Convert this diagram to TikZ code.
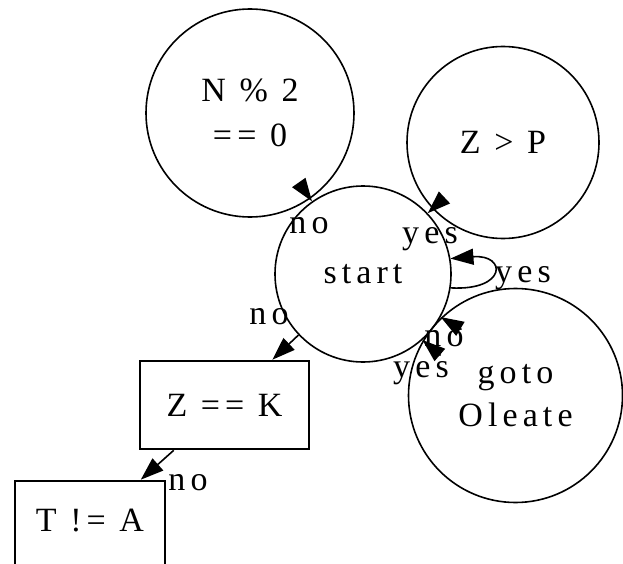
\documentclass[tikz,border=0pt]{standalone}
\usepackage{fontspec}
\setmainfont{Liberation Serif}[LetterSpace=15]
\usetikzlibrary{arrows.meta}
\begin{document}
\begin{tikzpicture}[x=1pt,y=-1pt,
  every node/.style={font=\fontsize{34}{45}\selectfont},
  circ/.style={draw, circle, line width=1.6pt, inner sep=0pt, align=center},
  boxn/.style={draw, rectangle, line width=2.6pt, inner sep=0pt},
  edge/.style={line width=1.6pt, -{Triangle[length=23pt,width=16pt]}},
  lab/.style={anchor=base, inner sep=0pt}]
\useasboundingbox (0,0) rectangle (623,564);
% nodes
\node[circ, minimum size=208pt] (n2) at (250,113) {N \% 2\\== 0};
\node[circ, minimum size=192pt] (zp) at (503,142.5) {Z > P};
\node[circ, minimum size=176pt] (start) at (363,274) {start};
\node[circ, minimum size=214pt, font=\fontsize{34}{43}\selectfont] (goto) at (515.5,395.5) {goto\\Oleate};
\node[boxn, minimum width=169pt, minimum height=88pt] (zk) at (224.5,405) {Z == K};
\node[boxn, minimum width=150pt, minimum height=88pt, text depth=9pt] (ta) at (90,525) {T != A};
% connectors
\draw[edge] (n2) -- (start);
\draw[edge] (zp) -- (start);
\draw[edge] (start.-9) .. controls (507,291) and (507,254) .. (start.10);
\coordinate (g1) at (461.5,329.5);
\coordinate (g2) at (440.5,355.5);
\draw[edge] (g1) -- (start.-29);
\draw[edge] (g2) -- (start.-48);
\draw[edge] (start) -- (zk);
\draw[edge] (zk) -- (ta);
% labels
\node[lab] (l1) at (309,233) {no};
\node[lab] (l2) at (430,243) {yes};
\node[lab] (l3) at (523,282) {yes};
\node[lab] (l4) at (444,346) {no};
\node[lab] (l5) at (421,377) {yes};
\node[lab] (l6) at (269,324) {no};
\node[lab] (l7) at (188,490) {no};
\end{tikzpicture}
\end{document}
